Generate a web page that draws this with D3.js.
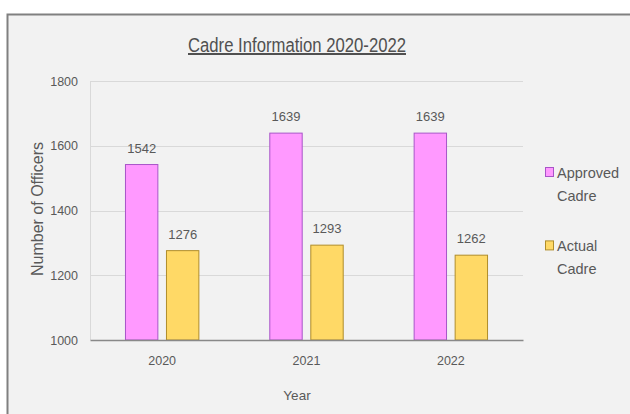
<!DOCTYPE html>
<html>
<head>
<meta charset="utf-8">
<script src="https://cdn.jsdelivr.net/npm/d3@7"></script>
<style>
  body { margin: 0; background: #fff; }
  text { font-family: "Liberation Sans", Arial, sans-serif; fill: #595959; }
</style>
</head>
<body>
<div id="chart"></div>
<script>
var years = ['2020', '2021', '2022'];
var seriesNames = ['Approved Cadre', 'Actual Cadre'];
var approved = [1542, 1639, 1639];
var actual = [1276, 1293, 1262];
var yTicks = [1000, 1200, 1400, 1600, 1800];

var fills = ['#ff99ff', '#ffd966'];
var strokes = ['#a855c8', '#b08d2a'];

var data = years.map(function(y, i) {
	return { year: y, values: [approved[i], actual[i]] };
});

var svg = d3.select('#chart').append('svg').attr('width', 630).attr('height', 414);

// chart frame
svg.append('rect')
	.attr('x', 7.5).attr('y', 14.5)
	.attr('width', 640).attr('height', 420)
	.attr('fill', '#f2f2f2')
	.attr('stroke', '#808080')
	.attr('stroke-width', 2);

var xScale = d3.scaleBand().domain(years).range([90, 523]);
var inner = d3.scaleBand().domain(seriesNames).range([0, 73.4]).paddingInner(0.21);
var innerOffset = (xScale.bandwidth() - 73.4) / 2;

var yScale = d3.scaleLinear().domain([1000, 1800]).range([340, 81]);

// gridlines
svg.append('g')
	.selectAll('line')
	.data(yTicks.slice(1))
	.enter()
	.append('line')
	.attr('x1', 90).attr('x2', 523)
	.attr('y1', function(d) { return Math.round(yScale(d)) + 0.5; })
	.attr('y2', function(d) { return Math.round(yScale(d)) + 0.5; })
	.attr('stroke', '#d9d9d9')
	.attr('stroke-width', 1);

svg.append('line')
	.attr('x1', 90.5).attr('x2', 90.5)
	.attr('y1', yScale(1800)).attr('y2', yScale(1000))
	.attr('stroke', '#d9d9d9');

var yAxis = d3.axisLeft(yScale).tickValues(yTicks).tickFormat(d3.format('d')).tickSize(0).tickPadding(12);
var yAxisG = svg.append('g').attr('transform', 'translate(90,0)').call(yAxis);
yAxisG.select('.domain').remove();
yAxisG.selectAll('text').style('font-size', '12.5px').attr('fill', '#595959');

// bars
var groups = svg.append('g')
	.selectAll('g')
	.data(data)
	.enter()
	.append('g')
	.attr('transform', function(d) { return 'translate(' + (xScale(d.year) + innerOffset) + ',0)'; });

groups.selectAll('rect')
	.data(function(d) { return d.values; })
	.enter()
	.append('rect')
	.attr('x', function(d, i) { return inner(seriesNames[i]); })
	.attr('width', inner.bandwidth())
	.attr('y', function(d) { return yScale(d); })
	.attr('height', function(d) { return yScale(1000) - yScale(d); })
	.attr('fill', function(d, i) { return fills[i]; })
	.attr('stroke', function(d, i) { return strokes[i]; })
	.attr('stroke-width', 1);

groups.selectAll('text.val')
	.data(function(d) { return d.values; })
	.enter()
	.append('text')
	.attr('class', 'val')
	.attr('x', function(d, i) { return inner(seriesNames[i]) + inner.bandwidth() / 2; })
	.attr('y', function(d) { return yScale(d) - 12; })
	.attr('text-anchor', 'middle')
	.style('font-size', '13px')
	.text(function(d) { return d; });

// x axis
var xAxis = d3.axisBottom(xScale).tickSize(0).tickPadding(16);
var xAxisG = svg.append('g').attr('transform', 'translate(0,340)').call(xAxis);
xAxisG.select('.domain').attr('stroke', '#898989').attr('stroke-width', 1.5);
xAxisG.selectAll('text').style('font-size', '12.5px').attr('fill', '#595959');

// titles
svg.append('text')
	.attr('x', 297).attr('y', 52)
	.attr('text-anchor', 'middle')
	.attr('textLength', 218)
	.attr('lengthAdjust', 'spacingAndGlyphs')
	.style('font-size', '20px')
	.style('fill', '#505050')
	.style('text-decoration', 'underline')
	.text('Cadre Information 2020-2022');

svg.append('text')
	.attr('x', 297).attr('y', 400)
	.attr('text-anchor', 'middle')
	.style('font-size', '13.5px')
	.text('Year');

svg.append('text')
	.attr('transform', 'translate(43,209) rotate(-90)')
	.attr('text-anchor', 'middle')
	.style('font-size', '16px')
	.text('Number of Officers');

// legend
var legend = svg.append('g')
	.selectAll('g')
	.data(seriesNames)
	.enter()
	.append('g')
	.attr('transform', function(d, i) { return 'translate(545,' + (167 + i * 73.4) + ')'; });

legend.append('rect')
	.attr('x', 0.5).attr('y', 0.5)
	.attr('width', 8).attr('height', 9)
	.attr('fill', function(d, i) { return fills[i]; })
	.attr('stroke', function(d, i) { return strokes[i]; });

legend.append('text')
	.attr('x', 12).attr('y', 11)
	.style('font-size', '14.5px')
	.text(function(d) { return d.split(' ')[0]; });

legend.append('text')
	.attr('x', 12).attr('y', 34)
	.style('font-size', '14.5px')
	.text(function(d) { return d.split(' ')[1]; });
</script>
</body>
</html>
